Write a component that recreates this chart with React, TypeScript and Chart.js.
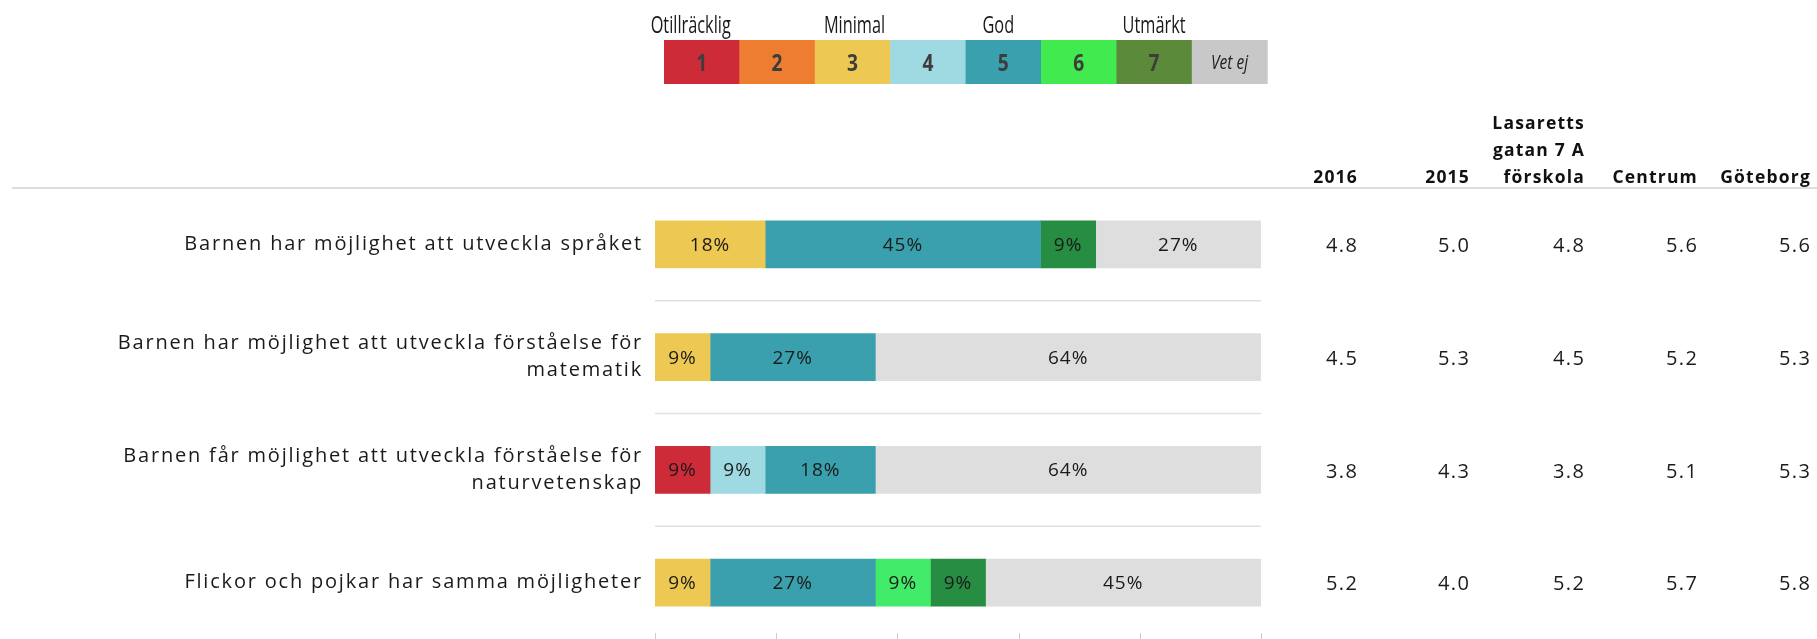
import { useEffect, useRef } from "react";
import { Chart, registerables } from "chart.js";

Chart.register(...registerables);

// ---------- data ----------
const categories: string[][] = [
  ["Barnen har möjlighet att utveckla språket"],
  ["Barnen har möjlighet att utveckla förståelse för", "matematik"],
  ["Barnen får möjlighet att utveckla förståelse för", "naturvetenskap"],
  ["Flickor och pojkar har samma möjligheter"],
];

const gradeKeys = ["1", "2", "3", "4", "5", "6", "7", "Vet ej"];
const legendTitles = ["Otillräcklig", "", "Minimal", "", "God", "", "Utmärkt", ""];

// percentage shares per grade, one value per category
const grade1 = [0, 0, 9.09, 0];
const grade2 = [0, 0, 0, 0];
const grade3 = [18.18, 9.09, 0, 9.09];
const grade4 = [0, 0, 9.09, 0];
const grade5 = [45.45, 27.27, 18.18, 27.27];
const grade6 = [0, 0, 0, 9.09];
const grade7 = [9.09, 0, 0, 9.09];
const gradeVetEj = [27.27, 63.64, 63.64, 45.45];

const barColors = ["#CD2B38", "#EE7D31", "#EDC853", "#9FD9E1", "#3AA0AD", "#43EB6A", "#268D42", "#DEDEDE"];
const legendColors = ["#CD2B38", "#EE7D31", "#EDC853", "#9FD9E1", "#3AA0AD", "#41EA4E", "#5B8A3B", "#C8C8C8"];

const tableHeaders: string[][] = [["2016"], ["2015"], ["Lasaretts", "gatan 7 A", "förskola"], ["Centrum"], ["Göteborg"]];
const col2016 = [4.8, 4.5, 3.8, 5.2];
const col2015 = [5.0, 5.3, 4.3, 4.0];
const colLasarett = [4.8, 4.5, 3.8, 5.2];
const colCentrum = [5.6, 5.2, 5.1, 5.7];
const colGoteborg = [5.6, 5.3, 5.3, 5.8];

const axisTicks = [0, 20, 40, 60, 80, 100];

const series = [grade1, grade2, grade3, grade4, grade5, grade6, grade7, gradeVetEj];
const tableCols = [col2016, col2015, colLasarett, colCentrum, colGoteborg];

const BASE_FONT = '"Open Sans", "DejaVu Sans", sans-serif';

function squeezedText(ctx: CanvasRenderingContext2D, text: string, cx: number, y: number, sx: number) {
  ctx.save();
  ctx.translate(cx, y);
  ctx.scale(sx, 1);
  ctx.fillText(text, 0, 0);
  ctx.restore();
}

const decorPlugin = {
  id: "decor",
  afterDraw(chart: any) {
    const ctx = chart.ctx as CanvasRenderingContext2D;
    const area = chart.chartArea;
    const xs = chart.scales.x;
    const ys = chart.scales.y;
    ctx.save();

    // ---- colour-scale legend ----
    const boxLeft = 664;
    const boxW = 75.4;
    const boxTop = 40;
    const boxH = 44;
    const titleShift = [-11, 0, 2, 0, -5, 0, 0, 0];
    gradeKeys.forEach((k, i) => {
      const x0 = boxLeft + i * boxW;
      ctx.fillStyle = legendColors[i];
      ctx.fillRect(x0, boxTop, boxW + 0.5, boxH);
      ctx.textAlign = "center";
      ctx.textBaseline = "middle";
      if (k === "Vet ej") {
        ctx.fillStyle = "#222";
        ctx.font = `italic 20px ${BASE_FONT}`;
        squeezedText(ctx, k, x0 + boxW / 2, boxTop + boxH / 2 + 1, 0.78);
      } else {
        ctx.fillStyle = "#3d3d3d";
        ctx.font = `bold 24px ${BASE_FONT}`;
        squeezedText(ctx, k, x0 + boxW / 2, boxTop + boxH / 2 + 2, 0.8);
      }
      if (legendTitles[i]) {
        ctx.fillStyle = "#1a1a1a";
        ctx.font = `24px ${BASE_FONT}`;
        ctx.textBaseline = "alphabetic";
        squeezedText(ctx, legendTitles[i], x0 + boxW / 2 + titleShift[i], 33, 0.68);
      }
    });

    // ---- header line ----
    ctx.strokeStyle = "#dddddd";
    ctx.lineWidth = 2;
    ctx.beginPath();
    ctx.moveTo(12, 188);
    ctx.lineTo(1817, 188);
    ctx.stroke();

    // ---- separators between rows ----
    ctx.strokeStyle = "#e0e0e0";
    ctx.lineWidth = 1.5;
    for (let i = 0; i < categories.length - 1; i++) {
      const y = (ys.getPixelForValue(i) + ys.getPixelForValue(i + 1)) / 2;
      ctx.beginPath();
      ctx.moveTo(area.left, y);
      ctx.lineTo(area.right, y);
      ctx.stroke();
    }

    // ---- bottom ticks ----
    ctx.strokeStyle = "#cccccc";
    ctx.lineWidth = 1;
    axisTicks.forEach((t) => {
      const x = Math.round(xs.getPixelForValue(t)) + 0.5;
      ctx.beginPath();
      ctx.moveTo(x, 633);
      ctx.lineTo(x, 639);
      ctx.stroke();
    });

    // ---- category labels ----
    ctx.fillStyle = "#1a1a1a";
    ctx.font = `20px ${BASE_FONT}`;
    (ctx as any).letterSpacing = "1.8px";
    ctx.textAlign = "right";
    ctx.textBaseline = "middle";
    categories.forEach((lines, i) => {
      const cy = ys.getPixelForValue(i);
      const lh = 27;
      lines.forEach((ln, j) => {
        const y = cy + (j - (lines.length - 1) / 2) * lh;
        ctx.fillText(ln, 643, y);
      });
    });

    // ---- bar value labels ----
    ctx.textAlign = "center";
    ctx.font = `19px ${BASE_FONT}`;
    (ctx as any).letterSpacing = "1px";
    chart.data.datasets.forEach((ds: any, di: number) => {
      const meta = chart.getDatasetMeta(di);
      meta.data.forEach((el: any, idx: number) => {
        const v = ds.data[idx];
        if (!v) return;
        const cx = (el.x + el.base) / 2;
        ctx.fillStyle = "#1a1a1a";
        ctx.fillText(Math.round(v) + "%", cx, el.y + 1);
      });
    });

    // ---- table headers ----
    const colRight = [1357, 1469, 1584, 1697, 1810];
    ctx.textAlign = "right";
    ctx.textBaseline = "middle";
    ctx.font = `bold 17.5px ${BASE_FONT}`;
    (ctx as any).letterSpacing = "1.2px";
    ctx.fillStyle = "#111";
    tableHeaders.forEach((lines, c) => {
      lines.forEach((ln, j) => {
        const y = 178 - (lines.length - 1 - j) * 27;
        ctx.fillText(ln, colRight[c] + 1, y);
      });
    });

    // ---- table values ----
    ctx.font = `20px ${BASE_FONT}`;
    (ctx as any).letterSpacing = "1.5px";
    ctx.fillStyle = "#1a1a1a";
    tableCols.forEach((col, c) => {
      col.forEach((v, i) => {
        const y = ys.getPixelForValue(i) + 2;
        ctx.fillText(v.toFixed(1), colRight[c] + 1.5, y);
      });
    });
    (ctx as any).letterSpacing = "0px";
    ctx.restore();
  },
};

export default function App() {
  const ref = useRef<HTMLCanvasElement | null>(null);
  useEffect(() => {
    if (!ref.current) return;
    const chart = new Chart(ref.current, {
      type: "bar",
      data: {
        labels: categories.map((c) => c.join(" ")),
        datasets: gradeKeys.map((k, i) => ({
          label: k,
          data: series[i].map((v) => (v === 0 ? null : v)),
          backgroundColor: barColors[i],
          borderWidth: 0,
          barThickness: 47,
          stack: "s",
        })),
      },
      options: {
        indexAxis: "y",
        responsive: false,
        animation: false,
        layout: { padding: { left: 655, right: 556, top: 188, bottom: 0 } },
        scales: {
          x: { display: false, stacked: true, min: 0, max: 100 },
          y: { display: false, stacked: true },
        },
        plugins: { legend: { display: false }, tooltip: { enabled: false } },
      },
      plugins: [decorPlugin],
    } as any);
    return () => chart.destroy();
  }, []);
  return (
    <div style={{ position: "absolute", left: 0, top: 0, width: 1817, height: 639, background: "#fff" }}>
      <canvas ref={ref} width={1817} height={639} style={{ display: "block" }} />
    </div>
  );
}
